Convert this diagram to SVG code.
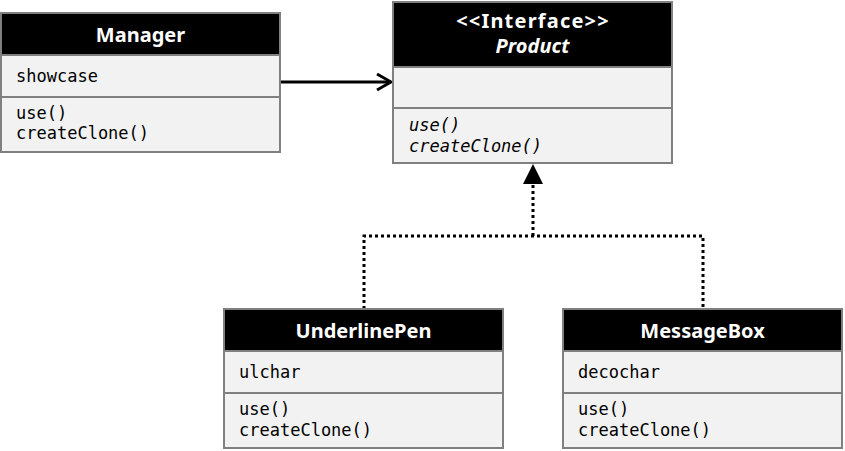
<svg xmlns="http://www.w3.org/2000/svg" width="845" height="451" viewBox="0 0 845 451">
<style>
.hd{fill:#000;stroke:#808080;stroke-width:2}
.cp{fill:#f2f2f2;stroke:#808080;stroke-width:2}
.tt{font-family:"Noto Sans","Open Sans",sans-serif;font-weight:bold;font-size:20px;fill:#fff;text-anchor:middle}
.m{font-family:"DejaVu Sans Mono","Liberation Mono",monospace;font-size:17px;fill:#000}
.it{font-style:italic}
.dot{fill:none;stroke:#000;stroke-width:3;stroke-dasharray:3 3}
</style>
<defs>
<marker id="open" viewBox="0 0 20 20" refX="18" refY="10" markerWidth="20" markerHeight="20" markerUnits="userSpaceOnUse" orient="auto">
<path d="M4,2 L18,10 L4,18" fill="none" stroke="#000" stroke-width="3"/>
</marker>
</defs>
<g id="connectors">
<line x1="280" y1="82" x2="391" y2="82" stroke="#000" stroke-width="3" marker-end="url(#open)"/>
<path class="dot" d="M364,309 V236 H703 V309"/>
<path class="dot" d="M533,236 V184"/>
<polygon points="533,164 523,184 543,184" fill="#000"/>
</g>
<g id="Manager">
<rect class="hd" x="1" y="13" width="279" height="42"/>
<text class="tt" x="140.5" y="42">Manager</text>
<rect class="cp" x="1" y="55" width="279" height="42"/>
<text class="m" x="16" y="82">showcase</text>
<rect class="cp" x="1" y="97" width="279" height="55"/>
<text class="m" x="16" y="119">use()</text>
<text class="m" x="16" y="139">createClone()</text>
</g>
<g id="Product">
<rect class="hd" x="393" y="2" width="279" height="65"/>
<text class="tt" x="533" y="28" style="letter-spacing:1.2px">&lt;&lt;Interface&gt;&gt;</text>
<text class="tt it" x="532.5" y="53">Product</text>
<rect class="cp" x="393" y="67" width="279" height="41"/>
<rect class="cp" x="393" y="108" width="279" height="55"/>
<text class="m it" x="409" y="131">use()</text>
<text class="m it" x="409" y="152">createClone()</text>
</g>
<g id="UnderlinePen">
<rect class="hd" x="224" y="309" width="279" height="42"/>
<text class="tt" x="363.5" y="338">UnderlinePen</text>
<rect class="cp" x="224" y="351" width="279" height="42"/>
<text class="m" x="239" y="378">ulchar</text>
<rect class="cp" x="224" y="393" width="279" height="55"/>
<text class="m" x="239" y="415">use()</text>
<text class="m" x="239" y="436">createClone()</text>
</g>
<g id="MessageBox">
<rect class="hd" x="563" y="309" width="279" height="42"/>
<text class="tt" x="702.5" y="338">MessageBox</text>
<rect class="cp" x="563" y="351" width="279" height="42"/>
<text class="m" x="578" y="378">decochar</text>
<rect class="cp" x="563" y="393" width="279" height="55"/>
<text class="m" x="578" y="415">use()</text>
<text class="m" x="578" y="436">createClone()</text>
</g>
</svg>
